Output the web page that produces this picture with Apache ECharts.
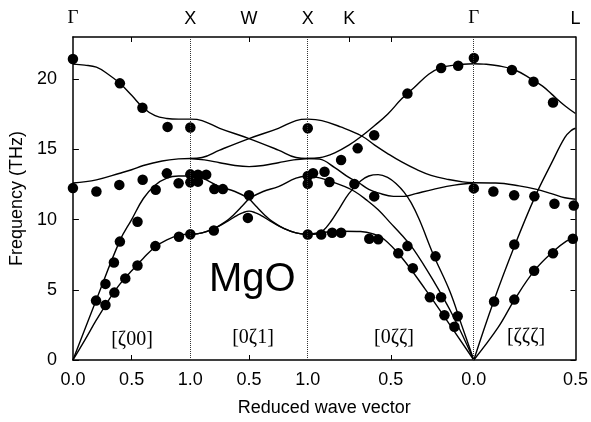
<!DOCTYPE html>
<html><head><meta charset="utf-8">
<script src="https://cdn.jsdelivr.net/npm/echarts@6/dist/echarts.min.js"></script>
<style>html,body{margin:0;padding:0;background:#fff}#c{width:591px;height:422px}</style>
</head><body><div id="c"></div>
<script>
// High-symmetry points along path (units of 2π/a)
const symPos = [0, 1, 1.5, 2, 2.3536, 3.4142, 4.2803];
const symLabels = ['Γ', 'X', 'W', 'X', 'K', 'Γ', 'L'];
const bottomLabelPos = [0, 0.5, 1, 1.5, 2, 2.7071, 3.4142, 4.2803];
const bottomLabels = ['0.0', '0.5', '1.0', '0.5', '1.0', '0.5', '0.0', '0.5'];
const bottomTickPos = [0.5, 1.5, 2.7071];
const topTickPos = [0.5, 1.5, 2.3536, 2.7071];
const dottedAt = [1, 2, 3.4142];
const yTicks = [0, 5, 10, 15, 20];

// Experimental points
const dots = [
  [0,21.43],[0.40,19.70],[0.592,17.96],[0.806,16.6],[1.0,16.55],
  [0,12.24],[0.20,12.0],[0.395,12.47],[0.594,12.83],[0.705,12.12],[0.80,13.29],[0.90,12.59],[1.0,13.22],[1.0,12.65],
  [0.197,4.23],[0.277,5.42],[0.349,6.94],[0.40,8.43],[0.55,9.84],
  [0.277,3.92],[0.353,4.8],[0.446,5.81],[0.55,6.73],[0.702,8.11],[0.903,8.78],[1.0,8.96],
  [1.065,13.2],[1.135,13.2],[1.065,12.7],[1.204,12.17],[1.277,12.17],[1.5,11.73],[1.2,9.22],[1.49,10.12],
  [2.0,16.5],[2.0,13.1],[2.045,13.3],[2.143,13.41],[2.0,12.55],[2.185,12.67],[2.0,8.94],
  [2.397,12.53],[2.566,11.65],[2.284,14.24],[2.425,15.07],[2.566,16.0],[2.849,18.97],[3.136,20.79],[3.281,20.95],[3.415,21.5],[3.414,12.22],
  [2.115,8.94],[2.208,9.06],[2.284,9.06],[2.524,8.64],[2.6,8.59],[2.771,7.6],[2.849,8.11],[2.895,6.54],[3.088,7.38],[3.04,4.47],[3.136,4.47],[3.164,3.19],[3.277,3.11],[3.249,2.37],
  [3.739,20.65],[3.923,19.82],[4.089,18.34],[3.581,12.0],[3.758,11.73],[3.93,11.66],[4.101,11.12],[4.266,11.0],[3.587,4.16],[3.759,8.23],[3.759,4.3],[3.928,6.35],[4.089,7.6],[4.258,8.64]
];

// Calculated dispersion curves
// Γ–X
const gxLO = [[0,21.07],[0.1,21.0],[0.2,20.85],[0.3,20.35],[0.4,19.7],[0.5,18.85],[0.6,17.95],[0.7,17.4],[0.8,17.2],[0.9,17.15],[1,17.15]];
const gxTO = [[0,12.6],[0.2,12.83],[0.4,13.3],[0.5,13.55],[0.6,13.85],[0.76,14.17],[0.9,14.32],[1,14.35]];
const gxLA = [[0,0],[0.2,4.3],[0.4,8.5],[0.5,10.0],[0.6,11.5],[0.7,12.45],[0.8,12.95],[0.9,13.1],[1,13.1]];
const gxTA = [[0,0],[0.1,1.4],[0.2,2.85],[0.3,4.2],[0.4,5.4],[0.5,6.35],[0.6,7.25],[0.7,8.05],[0.8,8.55],[0.9,8.87],[1,8.95]];
// X–W–X
const xwA = [[1,17.15],[1.1,17.05],[1.25,16.5],[1.5,15.77],[1.75,14.95],[1.9,14.42],[2,14.35]];
const xwB = [[1,14.35],[1.1,14.42],[1.25,14.95],[1.5,15.77],[1.75,16.5],[1.9,17.05],[2,17.15]];
const xwC = [[1,14.35],[1.12,14.25],[1.25,14.05],[1.38,13.85],[1.5,13.77],[1.62,13.85],[1.75,14.05],[1.88,14.25],[2,14.35]];
const xwDl = [[1,13.1],[1.1,12.95],[1.25,12.35],[1.38,12.0],[1.5,11.5]];
const xwDr = [[1.5,11.5],[1.56,10.95],[1.63,10.35],[1.7,9.85],[1.8,9.35],[1.9,9.05],[2,8.95]];
const xwEl = [[1,8.95],[1.1,9.05],[1.2,9.35],[1.3,9.85],[1.37,10.35],[1.44,10.95],[1.5,11.5]];
const xwEr = [[1.5,11.5],[1.62,12.0],[1.75,12.35],[1.9,12.95],[2,13.1]];
const xwF = [[1,8.95],[1.1,9.05],[1.2,9.35],[1.3,9.8],[1.4,10.3],[1.45,10.5],[1.5,10.6],[1.55,10.5],[1.6,10.3],[1.7,9.8],[1.8,9.35],[1.9,9.05],[2,8.95]];
// X–K–Γ
const kgS1 = [[2,17.15],[2.12,17.05],[2.28,16.6],[2.46,15.95],[2.57,15.3],[2.68,14.7],[2.8,14.1],[2.93,13.55],[3.05,13.15],[3.2,12.85],[3.32,12.68],[3.4142,12.62]];
const kgS2 = [[2,14.35],[2.1,14.4],[2.23,14.75],[2.35,15.3],[2.46,15.95],[2.57,16.7],[2.68,17.5],[2.8,18.6],[2.9,19.35],[3.03,20.35],[3.13,20.8],[3.25,21.0],[3.4142,21.1]];
const kgS3 = [[2,14.35],[2.1,14.3],[2.23,13.7],[2.35,13.0],[2.43,12.65],[2.52,12.15],[2.6,11.9],[2.73,11.65],[2.82,11.65],[2.92,11.85],[3.07,12.15],[3.25,12.45],[3.4142,12.6]];
const kgS4 = [[2,13.1],[2.1,12.97],[2.2,12.7],[2.3,12.4],[2.4,12.0],[2.5,11.4],[2.6,10.7],[2.7,9.8],[2.8,8.9],[2.9,7.9],[3.07,5.65],[3.24,3.1],[3.4142,0]];
const kgS5 = [[2,8.95],[2.08,8.97],[2.13,9.2],[2.2,9.9],[2.27,10.8],[2.35,11.85],[2.45,12.75],[2.52,13.1],[2.6,13.2],[2.68,13.0],[2.76,12.5],[2.82,11.95],[2.88,11.2],[2.95,10.0],[3.07,7.5],[3.21,4.9],[3.31,2.5],[3.4142,0]];
const kgS6 = [[2,8.95],[2.15,9.1],[2.3,9.17],[2.45,9.15],[2.55,9.0],[2.65,8.6],[2.8,7.3],[3.0,5.05],[3.17,3.0],[3.4142,0]];
// Γ–L
const glLO = [[3.4142,21.1],[3.5,21.07],[3.62,20.95],[3.765,20.65],[3.906,20.0],[4.0,19.5],[4.075,18.95],[4.19,18.1],[4.2803,17.55]];
const glTO = [[3.4142,12.62],[3.6,12.6],[3.8,12.4],[3.95,12.15],[4.075,11.85],[4.19,11.55],[4.2803,11.45]];
const glLA = [[3.4142,0],[3.58,4.1],[3.765,8.2],[3.934,11.6],[4.075,14.0],[4.19,15.85],[4.245,16.35],[4.2803,16.5]];
const glTA = [[3.4142,0],[3.62,2.3],[3.765,4.35],[3.934,6.4],[4.1,7.8],[4.2,8.45],[4.2803,8.8]];

const curves = [gxLO, gxTO, gxLA, gxTA, xwA, xwB, xwC, xwDl, xwDr, xwEl, xwEr, xwF,
  kgS1, kgS2, kgS3, kgS4, kgS5, kgS6, glLO, glTO, glLA, glTA];

function lookup(pos, labels, v) {
  for (let i = 0; i < pos.length; i++) if (Math.abs(pos[i] - v) < 1e-3) return labels[i];
  return '';
}

const chart = echarts.init(document.getElementById('c'));
const SANS = 'Liberation Sans, Arial, sans-serif';
const SERIF = 'Liberation Serif, Times New Roman, serif';

const series = curves.map(c => ({
  type: 'line', data: c, smooth: 0.4, showSymbol: false, symbol: 'none', silent: true,
  lineStyle: { color: '#000', width: 1.4 }, z: 3, animation: false
}));
series.push({
  type: 'line', data: [], silent: true, animation: false,
  markLine: {
    symbol: 'none', silent: true, animation: false, label: { show: false },
    lineStyle: { type: 'dotted', color: '#333', width: 1 },
    data: dottedAt.map(v => ({ xAxis: v }))
  }
});
series.push({
  type: 'scatter', data: dots, symbol: 'circle', symbolSize: 10.5, silent: true, animation: false,
  itemStyle: { color: '#000', opacity: 1 }, z: 4
});

chart.setOption({
  animation: false,
  grid: { left: 70, right: 15, top: 37, bottom: 60, containLabel: false },
  xAxis: [{
    type: 'value', min: 0, max: 4.2803, position: 'bottom',
    axisLine: { show: true, onZero: false, lineStyle: { color: '#000', width: 1.5 } },
    axisTick: { show: true, inside: true, length: 5, customValues: bottomTickPos, lineStyle: { color: '#000' } },
    axisLabel: { customValues: bottomLabelPos, formatter: v => lookup(bottomLabelPos, bottomLabels, v),
      fontSize: 18, color: '#000', fontFamily: SANS, margin: 11 },
    splitLine: { show: false },
    name: 'Reduced wave vector', nameLocation: 'middle', nameGap: 39,
    nameTextStyle: { fontSize: 18, color: '#000', fontFamily: SANS }
  }, {
    type: 'value', min: 0, max: 4.2803, position: 'top',
    axisLine: { show: true, onZero: false, lineStyle: { color: '#000', width: 1.5 } },
    axisTick: { show: true, inside: true, length: 5, customValues: topTickPos, lineStyle: { color: '#000' } },
    axisLabel: { customValues: symPos,
      formatter: v => { const s = lookup(symPos, symLabels, v); return s === 'Γ' ? '{g|Γ}' : s; },
      fontSize: 18, color: '#000', fontFamily: SANS, margin: 9,
      rich: { g: { fontFamily: SERIF, fontSize: 19, color: '#000' } } },
    splitLine: { show: false }
  }],
  yAxis: [{
    type: 'value', min: 0, max: 23, position: 'left',
    axisLine: { show: true, onZero: false, lineStyle: { color: '#000', width: 1.5 } },
    axisTick: { show: true, inside: true, length: 6, customValues: yTicks, lineStyle: { color: '#000' } },
    axisLabel: { customValues: yTicks, fontSize: 18, color: '#000', fontFamily: SANS, margin: 16 },
    splitLine: { show: false },
    name: 'Frequency (THz)', nameLocation: 'middle', nameGap: 42,
    nameTextStyle: { fontSize: 18, color: '#000', fontFamily: SANS }
  }, {
    type: 'value', min: 0, max: 23, position: 'right',
    axisLine: { show: true, onZero: false, lineStyle: { color: '#000', width: 1.5 } },
    axisTick: { show: true, inside: true, length: 5, customValues: yTicks, lineStyle: { color: '#000' } },
    axisLabel: { show: false },
    splitLine: { show: false }
  }],
  graphic: [
    { type: 'text', left: 252 - 43, top: 282 - 22, style: { text: 'MgO', fontSize: 40, fontFamily: SANS, fill: '#000' }, silent: true },
    { type: 'text', x: 132, y: 340, style: { text: '[ζ00]', fontSize: 20, fontFamily: SERIF, fill: '#000', align: 'center', verticalAlign: 'middle' }, silent: true },
    { type: 'text', x: 253, y: 338, style: { text: '[0ζ1]', fontSize: 20, fontFamily: SERIF, fill: '#000', align: 'center', verticalAlign: 'middle' }, silent: true },
    { type: 'text', x: 394, y: 338, style: { text: '[0ζζ]', fontSize: 20, fontFamily: SERIF, fill: '#000', align: 'center', verticalAlign: 'middle' }, silent: true },
    { type: 'text', x: 526, y: 337, style: { text: '[ζζζ]', fontSize: 20, fontFamily: SERIF, fill: '#000', align: 'center', verticalAlign: 'middle' }, silent: true }
  ],
  series: series
});
</script>
</body></html>
